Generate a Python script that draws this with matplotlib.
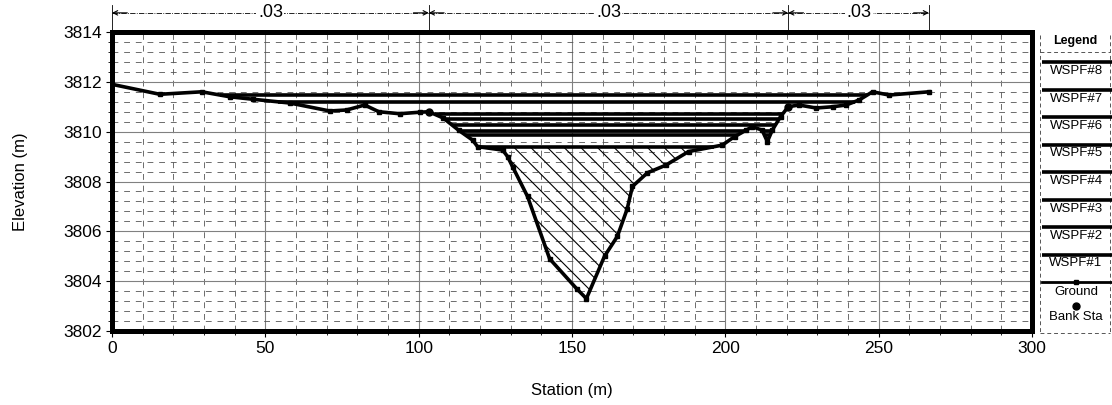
import numpy as np
import matplotlib.pyplot as plt
from matplotlib.ticker import MultipleLocator
from matplotlib.transforms import blended_transform_factory

plt.rcParams['font.family'] = ['Liberation Sans', 'DejaVu Sans']
plt.rcParams['hatch.linewidth'] = 0.8

# cross section
ground_sta = [0, 15.6, 29.3, 38.4, 46, 58, 71, 76.5, 82.4, 87, 93.8, 100.3, 103.3,
              108, 113, 117.6, 119.2, 127.4, 129, 130.6, 135.5, 142.7, 151.5, 154.7,
              160.6, 164.8, 168, 169.7, 174.6, 180.5, 188, 199, 203, 206.8, 208.8,
              212, 213.7, 215.3, 218, 220.5, 224, 229.6, 235, 239.4, 243.6, 248,
              253.4, 266.4]
ground_elev = [3811.9, 3811.5, 3811.6, 3811.4, 3811.3, 3811.15, 3810.83, 3810.87,
               3811.07, 3810.8, 3810.72, 3810.78, 3810.8, 3810.55, 3810.06, 3809.66,
               3809.4, 3809.26, 3809.0, 3808.6, 3807.4, 3804.9, 3803.7, 3803.3,
               3805.0, 3805.8, 3806.9, 3807.8, 3808.35, 3808.65, 3809.2, 3809.46,
               3809.8, 3810.06, 3810.2, 3810.06, 3809.6, 3810.06, 3810.6, 3811.0,
               3811.07, 3810.95, 3811.0, 3811.07, 3811.27, 3811.6, 3811.47, 3811.6]

ws_names = ['WSPF#1', 'WSPF#2', 'WSPF#3', 'WSPF#4', 'WSPF#5', 'WSPF#6', 'WSPF#7', 'WSPF#8']
ws_elev = [3809.4, 3809.86, 3810.03, 3810.27, 3810.5, 3810.7, 3811.2, 3811.47]

bank_sta = [103.3, 220.5]
bank_elev = [3810.8, 3811.0]

n_bounds = [0, 103.3, 220.5, 266.4]
n_values = ['.03', '.03', '.03']


def wet_spans(ws):
    spans = []
    start = None
    for i in range(len(ground_sta) - 1):
        x0, x1 = ground_sta[i], ground_sta[i + 1]
        z0, z1 = ground_elev[i], ground_elev[i + 1]
        if z0 >= ws and z1 < ws:
            start = x0 + (z0 - ws) / (z0 - z1) * (x1 - x0)
        elif z0 < ws and z1 >= ws and start is not None:
            spans.append((start, x0 + (ws - z0) / (z1 - z0) * (x1 - x0)))
            start = None
    return spans


fig = plt.figure(figsize=(11.12, 4.05), dpi=100)
ax = fig.add_axes([112 / 1112, (405 - 331) / 405, 920 / 1112, 299 / 405])

sta = np.array(ground_sta)
elev = np.array(ground_elev)

# water below lowest profile, hatched
ax.fill_between(sta, elev, ws_elev[0], where=elev < ws_elev[0], interpolate=True,
                facecolor='none', edgecolor='black', hatch='\\\\', linewidth=0, zorder=2)

for ws in ws_elev:
    for a, b in wet_spans(ws):
        ax.plot([a, b], [ws, ws], color='black', lw=2.6, solid_capstyle='butt', zorder=3)

ax.plot(sta, elev, color='black', lw=2.6, marker='s', ms=3.5, zorder=4)
ax.plot(bank_sta, bank_elev, 'o', color='black', ms=5, zorder=5)

ax.set_xlim(0, 300)
ax.set_ylim(3802, 3814)
ax.xaxis.set_major_locator(MultipleLocator(50))
ax.xaxis.set_minor_locator(MultipleLocator(10))
ax.yaxis.set_major_locator(MultipleLocator(2))
ax.yaxis.set_minor_locator(MultipleLocator(0.4))
ax.grid(which='major', color='#808080', lw=0.8, ls='-', zorder=0)
ax.grid(which='minor', color='#555555', lw=0.6, ls=(0, (7, 7)), zorder=0)
ax.set_axisbelow(True)
for s in ax.spines.values():
    s.set_linewidth(3.6)
ax.tick_params(which='major', direction='out', length=4, width=0.8, labelsize=12.5)
ax.tick_params(which='minor', direction='out', length=3, width=0.6)
ax.set_xlabel('Station (m)', fontsize=12, labelpad=19)
ax.set_ylabel('Elevation (m)', fontsize=12, labelpad=25)

# manning's n along the top
trans = blended_transform_factory(ax.transData, ax.transAxes)
y_n = 1.064
for b in n_bounds:
    ax.plot([b, b], [1.0, 1.09], color='black', lw=0.6, transform=trans, clip_on=False)
for i, val in enumerate(n_values):
    a, b = n_bounds[i], n_bounds[i + 1]
    ax.plot([a, b], [y_n, y_n], color='black', lw=0.6, ls='-.', transform=trans, clip_on=False)
    for tip, tail in [(a, a + 5), (b, b - 5)]:
        ax.annotate('', xy=(tip, y_n), xytext=(tail, y_n), xycoords=trans, textcoords=trans,
                    arrowprops=dict(arrowstyle='->', lw=0.8, color='black',
                                    shrinkA=0, shrinkB=0, mutation_scale=8),
                    annotation_clip=False)
    ax.text((a + b) / 2, y_n, val, transform=trans, ha='center', va='center', fontsize=13,
            bbox=dict(facecolor='white', edgecolor='none', pad=1))

# legend panel
lg = fig.add_axes([1036 / 1112, 0, 76 / 1112, 1])
lg.set_xlim(1036, 1112)
lg.set_ylim(405, 0)
lg.axis('off')
box = dict(color='#555555', lw=0.7, ls=(0, (4, 3)))
lg.plot([1040, 1040], [35, 333], **box)
lg.plot([1110, 1110], [35, 333], **box)
lg.plot([1040, 1110], [333, 333], **box)
lg.plot([1040, 1110], [52, 52], **box)
lg.text(1075, 41, 'Legend', ha='center', va='center', fontsize=9, fontweight='bold')
leg_labels = ws_names[::-1]
for i, name in enumerate(leg_labels):
    yl = 62 + i * 27.5
    lg.plot([1042, 1112], [yl, yl], color='black', lw=2.6, solid_capstyle='butt')
    lg.text(1076, yl + 9, name, ha='center', va='center', fontsize=9.5)
yg = 62 + 8 * 27.5
lg.plot([1042, 1076, 1112], [yg, yg, yg], color='black', lw=2.0, marker='s', ms=3.5,
        markevery=[1])
lg.text(1076, yg + 10, 'Ground', ha='center', va='center', fontsize=9.5)
lg.plot([1076], [yg + 24], 'o', color='black', ms=5)
lg.text(1076, yg + 35, 'Bank Sta', ha='center', va='center', fontsize=9.5)

fig.savefig('out.png', dpi=100)
